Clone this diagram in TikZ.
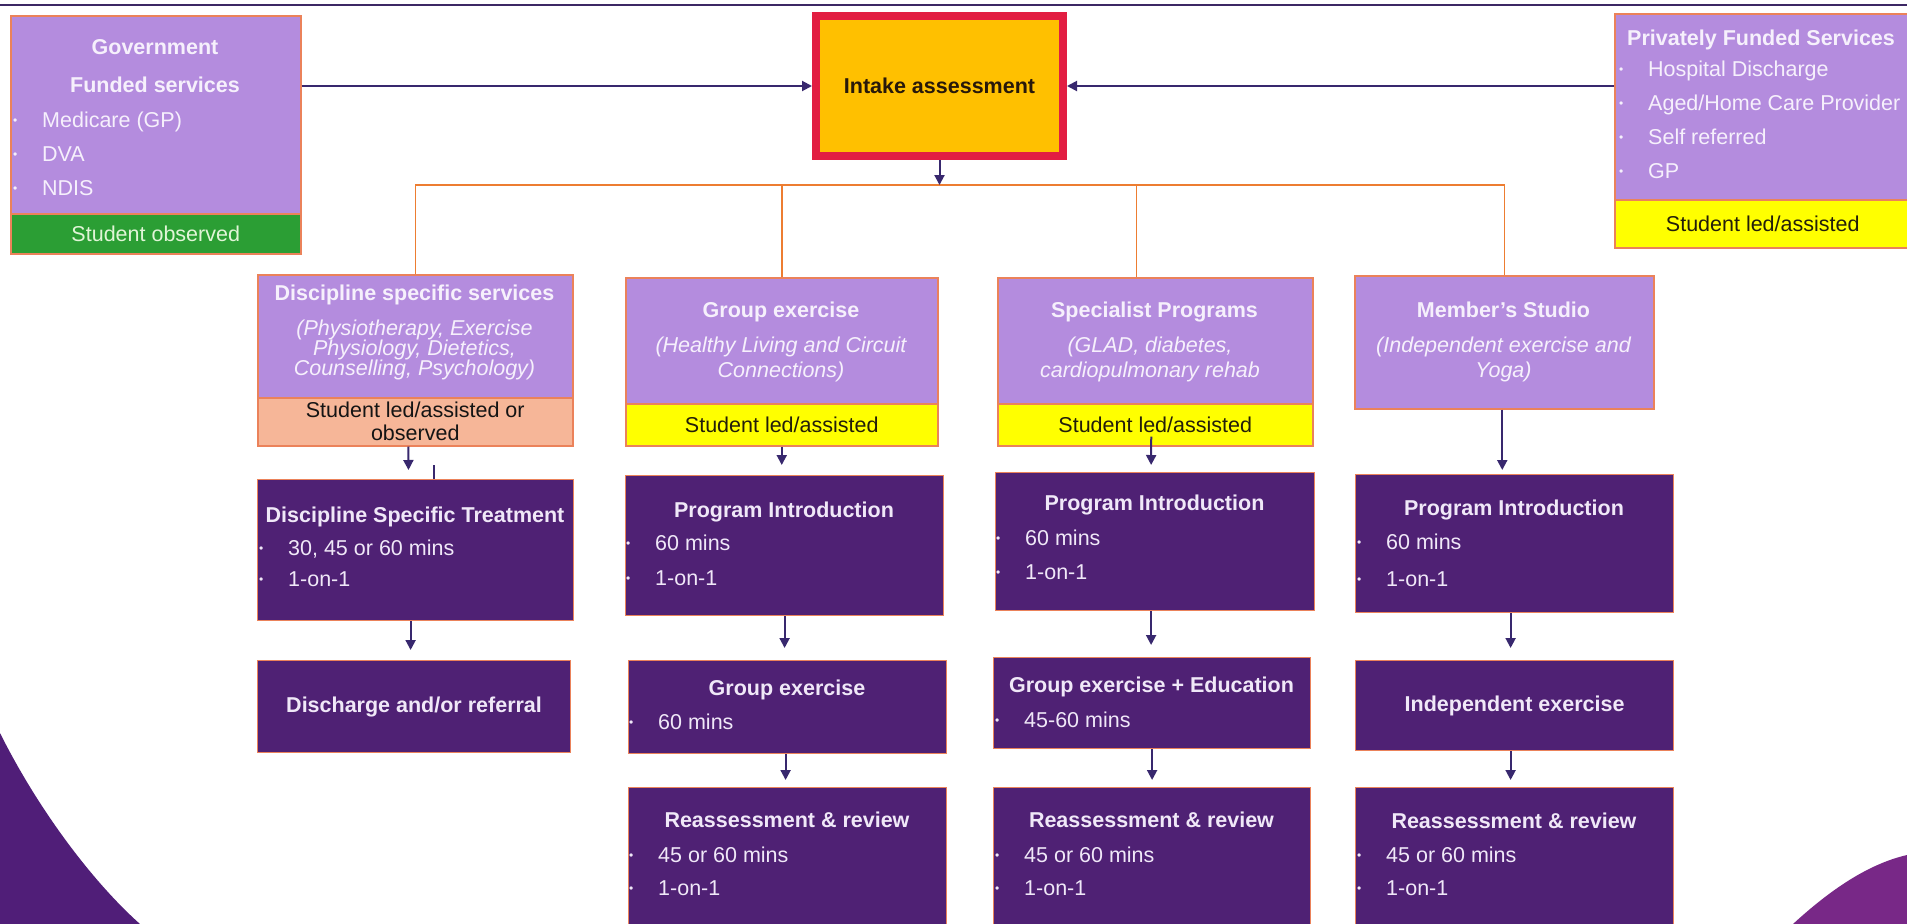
\documentclass[tikz,border=0pt]{standalone}
\usepackage{fontspec}
\setmainfont{Liberation Sans}
\usepackage{tikz}
\usetikzlibrary{arrows.meta,calc}
\lineskiplimit=-30pt
\newcommand{\blt}{\makebox[29pt][l]{\raisebox{3pt}{\fontsize{12}{12}\selectfont\textbullet}}}

\begin{document}
\begin{tikzpicture}[x=1pt,y=1pt,yscale=-1,
		lbox/.style={draw={rgb, 255:red, 235; green, 130; blue, 90}, line width=1.5pt, fill={rgb, 255:red, 180; green, 140; blue, 222}, inner sep=0pt, anchor=north west},
		dbox/.style={draw={rgb, 255:red, 235; green, 130; blue, 90}, line width=1.2pt, fill={rgb, 255:red, 79; green, 33; blue, 116}, inner sep=0pt, anchor=north west, text={rgb, 255:red, 240; green, 232; blue, 248}, font=\bfseries\fontsize{21.5}{26}\selectfont},
		tagbox/.style={draw={rgb, 255:red, 235; green, 130; blue, 90}, line width=1.5pt, inner sep=0pt, anchor=north west, align=center, font=\fontsize{21.5}{23}\selectfont},
		yellowtag/.style={tagbox, fill={rgb, 255:red, 255; green, 255; blue, 0}, text={rgb, 255:red, 35; green, 30; blue, 10}},
		intakebox/.style={draw={rgb, 255:red, 226; green, 30; blue, 66}, line width=8pt, fill={rgb, 255:red, 255; green, 192; blue, 0}, minimum width=247pt, minimum height=140pt, text={rgb, 255:red, 40; green, 25; blue, 10}, font=\bfseries\fontsize{21.5}{26}\selectfont},
		ttl/.style={inner sep=0pt, anchor=north, align=center, font=\bfseries\fontsize{21.5}{38}\selectfont},
		itl/.style={inner sep=0pt, anchor=north, align=center, font=\itshape\fontsize{21.5}{25}\selectfont},
		lst/.style={inner sep=0pt, anchor=north west, align=left, font=\fontsize{21.5}{34}\selectfont},
		ltxt/.style={text={rgb, 255:red, 246; green, 240; blue, 252}},
		dtxt/.style={text={rgb, 255:red, 240; green, 232; blue, 248}},
		arr/.style={draw={rgb, 255:red, 56; green, 40; blue, 110}, line width=2pt, -{Triangle[length=10pt,width=10pt]}},
		tree/.style={draw={rgb, 255:red, 237; green, 125; blue, 49}, line width=1.5pt}]
	
	\useasboundingbox (0,0) rectangle (1907,924);
	\fill[white] (0,0) rectangle (1907,924);
	
	%Shape: Corner (left)
	\path[fill={rgb, 255:red, 80; green, 30; blue, 120}] (0,733) .. controls (40,813) and (95,884) .. (140,924) -- (0,924) -- cycle;
	%Shape: Corner (right)
	\path[fill={rgb, 255:red, 120; green, 40; blue, 135}] (1793,924) .. controls (1830,890) and (1868,864) .. (1907,855) -- (1907,924) -- cycle;
	%Straight Lines: top rule
	\draw[draw={rgb, 255:red, 60; green, 40; blue, 100}, line width=2pt] (0,5) -- (1907,5);
	
	%Shape: Rectangle -- Government funded
	\node[lbox, minimum width=290pt, minimum height=198pt] (gov) at (10,15) {};
	\node[tagbox, fill={rgb, 255:red, 43; green, 158; blue, 52}, text={rgb, 255:red, 225; green, 245; blue, 215}, minimum width=290pt, minimum height=40pt] (govtag) at (10,213) {Student observed};
	% Text Node
	\node[ttl, ltxt] (govt) at (155,39) {Government\\Funded services};
	% Text Node
	\node[lst, ltxt] (govl) at (13,112) {\blt Medicare (GP)\\\blt DVA\\\blt NDIS};
	
	%Shape: Rectangle -- Intake
	\node[intakebox] (intake) at (939.5,86) {Intake assessment};
	
	%Shape: Rectangle -- Privately funded
	\node[lbox, minimum width=296pt, minimum height=186pt] (priv) at (1614,13) {};
	\node[yellowtag, minimum width=296pt, minimum height=48pt] (privtag) at (1614,199) {Student led/assisted};
	% Text Node
	\node[ttl, ltxt, anchor=north west] (privt) at (1627,30) {Privately Funded Services};
	% Text Node
	\node[lst, ltxt] (privl) at (1619,61) {\blt Hospital Discharge\\\blt Aged/Home Care Provider\\\blt Self referred\\\blt GP};
	
	%Straight Lines -- into intake
	\draw[arr] (gov.east |- intake.west) -- (intake.west);
	\draw[arr] (priv.west |- intake.east) -- (intake.east);
	
	%Shape: Rectangle -- Discipline specific services
	\node[lbox, minimum width=315pt, minimum height=123pt] (dss) at (257,274) {};
	\node[tagbox, fill={rgb, 255:red, 246; green, 182; blue, 152}, text={rgb, 255:red, 20; green, 20; blue, 20}, minimum width=315pt, minimum height=48pt] (dsstag) at (257,397) {Student led/assisted or\\observed};
	% Text Node
	\node[ttl, ltxt] (dsst) at (414.5,285) {Discipline specific services};
	% Text Node
	\node[itl, ltxt, font=\itshape\fontsize{21.5}{20}\selectfont] (dssi) at (414.5,320) {(Physiotherapy, Exercise\\Physiology, Dietetics,\\Counselling, Psychology)};
	
	%Shape: Rectangle -- Group exercise
	\node[lbox, minimum width=312pt, minimum height=126pt] (grp) at (625,277) {};
	\node[yellowtag, minimum width=312pt, minimum height=42pt] (grptag) at (625,403) {Student led/assisted};
	% Text Node
	\node[ttl, ltxt] (grpt) at (781,302) {Group exercise};
	% Text Node
	\node[itl, ltxt] (grpi) at (781,337) {(Healthy Living and Circuit\\Connections)};
	
	%Shape: Rectangle -- Specialist programs
	\node[lbox, minimum width=315pt, minimum height=126pt] (spc) at (997,277) {};
	\node[yellowtag, minimum width=315pt, minimum height=42pt] (spctag) at (997,403) {Student led/assisted};
	% Text Node
	\node[ttl, ltxt] (spct) at (1154.5,302) {Specialist Programs};
	% Text Node
	\node[itl, ltxt] (spci) at (1150,337) {(GLAD, diabetes,\\cardiopulmonary rehab};
	
	%Shape: Rectangle -- Member's studio
	\node[lbox, minimum width=299pt, minimum height=133pt] (mst) at (1354,275) {};
	% Text Node
	\node[ttl, ltxt] (mstt) at (1503.5,302) {Member's Studio};
	% Text Node
	\node[itl, ltxt] (msti) at (1503.5,337) {(Independent exercise and\\Yoga)};
	
	%Straight Lines -- tree from intake
	\coordinate (hub) at (939.5,185);
	\coordinate (spcup) at ($(spc.north west)!0.44!(spc.north east)$);
	\draw[tree] (dss.north) -- (dss.north |- hub) -- (mst.north |- hub) -- (mst.north);
	\draw[tree] (grp.north) -- (grp.north |- hub);
	\draw[tree] (spcup) -- (spcup |- hub);
	\draw[arr] (intake.south) -- (hub);
	
	%Shape: Rectangle -- column 1
	\node[dbox, minimum width=316pt, minimum height=141pt] (dst) at (257,479) {};
	\node[ttl, dtxt] (dstt) at (415,507) {Discipline Specific Treatment};
	\node[lst, dtxt, font=\fontsize{21.5}{31}\selectfont] (dstl) at (259,540) {\blt 30, 45 or 60 mins\\\blt 1-on-1};
	\node[dbox, minimum width=313pt, minimum height=92pt] (dis) at (257,660) {Discharge and/or referral};
	
	%Shape: Rectangle -- column 2
	\node[dbox, minimum width=318pt, minimum height=140pt] (pi2) at (625,475) {};
	\node[ttl, dtxt] (pi2t) at (784,502) {Program Introduction};
	\node[lst, dtxt, font=\fontsize{21.5}{35}\selectfont] (pi2l) at (626,535) {\blt 60 mins\\\blt 1-on-1};
	\node[dbox, minimum width=318pt, minimum height=93pt] (ge2) at (628,660) {};
	\node[ttl, dtxt] (ge2t) at (787,680) {Group exercise};
	\node[lst, dtxt] (ge2l) at (629,714) {\blt 60 mins};
	\node[dbox, minimum width=318pt, minimum height=150pt] (ra2) at (628,787) {};
	\node[ttl, dtxt] (ra2t) at (787,812) {Reassessment \& review};
	\node[lst, dtxt, font=\fontsize{21.5}{33}\selectfont] (ra2l) at (629,847) {\blt 45 or 60 mins\\\blt 1-on-1};
	
	%Shape: Rectangle -- column 3
	\node[dbox, minimum width=319pt, minimum height=138pt] (pi3) at (995,472) {};
	\node[ttl, dtxt] (pi3t) at (1154.5,495) {Program Introduction};
	\node[lst, dtxt] (pi3l) at (996,530) {\blt 60 mins\\\blt 1-on-1};
	\node[dbox, minimum width=317pt, minimum height=91pt] (ge3) at (993,657) {};
	\node[ttl, dtxt] (ge3t) at (1151.5,677) {Group exercise + Education};
	\node[lst, dtxt] (ge3l) at (995,712) {\blt 45-60 mins};
	\node[dbox, minimum width=317pt, minimum height=150pt] (ra3) at (993,787) {};
	\node[ttl, dtxt] (ra3t) at (1151.5,812) {Reassessment \& review};
	\node[lst, dtxt, font=\fontsize{21.5}{33}\selectfont] (ra3l) at (995,847) {\blt 45 or 60 mins\\\blt 1-on-1};
	
	%Shape: Rectangle -- column 4
	\node[dbox, minimum width=318pt, minimum height=138pt] (pi4) at (1355,474) {};
	\node[ttl, dtxt] (pi4t) at (1514,500) {Program Introduction};
	\node[lst, dtxt, font=\fontsize{21.5}{37}\selectfont] (pi4l) at (1357,534) {\blt 60 mins\\\blt 1-on-1};
	\node[dbox, minimum width=318pt, minimum height=90pt] (ie4) at (1355,660) {Independent exercise};
	\node[dbox, minimum width=318pt, minimum height=150pt] (ra4) at (1355,787) {};
	\node[ttl, dtxt] (ra4t) at (1514,813) {Reassessment \& review};
	\node[lst, dtxt, font=\fontsize{21.5}{33}\selectfont] (ra4l) at (1357,847) {\blt 45 or 60 mins\\\blt 1-on-1};
	
	%Straight Lines -- down the columns
	\draw[arr, shorten >=9pt] ($(dsstag.south)+(-7,0)$) -- ($(dst.north)+(-7,0)$);
	\draw[arr, -] ($(dst.north)+(18,0)$) -- ++(0,-14);
	\draw[arr, shorten >=10pt] (grptag.south) -- (grptag.south |- pi2.north);
	\draw[arr, shorten >=7pt] ($(spctag.south)+(-4,-10)$) -- ($(pi3.north)+(-4,0)$);
	\draw[arr, shorten >=4pt] ($(mst.south)+(-2,0)$) -- ($(mst.south |- pi4.north)+(-2,0)$);
	\draw[arr, shorten >=10pt] ($(dst.south)+(-5,0)$) -- ($(dst.south |- dis.north)+(-5,0)$);
	\draw[arr, shorten >=12pt] (pi2.south) -- (pi2.south |- ge2.north);
	\draw[arr, shorten >=7pt] ($(ge2.south)+(-2,0)$) -- ($(ge2.south |- ra2.north)+(-2,0)$);
	\draw[arr, shorten >=12pt] ($(pi3.south)+(-4,0)$) -- ($(pi3.south |- ge3.north)+(-4,0)$);
	\draw[arr, shorten >=7pt] (ge3.south) -- (ge3.south |- ra3.north);
	\draw[arr, shorten >=12pt] ($(pi4.south)+(-4,0)$) -- ($(pi4.south |- ie4.north)+(-4,0)$);
	\draw[arr, shorten >=7pt] ($(ie4.south)+(-4,0)$) -- ($(ie4.south |- ra4.north)+(-4,0)$);
\end{tikzpicture}
\end{document}
